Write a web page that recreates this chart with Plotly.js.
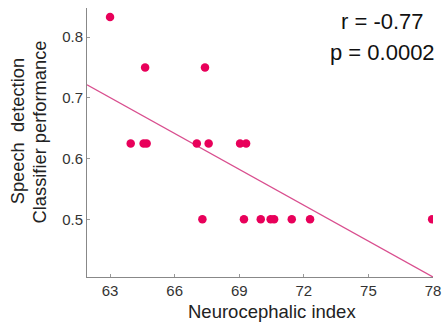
<!DOCTYPE html>
<html><head><meta charset="utf-8">
<script src="https://cdn.plot.ly/plotly-3.0.1.min.js"></script>
<style>html,body{margin:0;padding:0;background:#fff;}#chart{width:443px;height:323px;}</style>
</head><body><div id="chart"></div>
<script>
const neurocephalicIndex = [63.0, 64.63, 67.41, 63.96, 64.56, 64.70, 67.03, 67.58, 69.04, 69.32, 67.29, 69.22, 70.0, 70.46, 70.62, 71.44, 72.29, 77.96];
const classifierPerf = [0.833, 0.75, 0.75, 0.625, 0.625, 0.625, 0.625, 0.625, 0.625, 0.625, 0.5, 0.5, 0.5, 0.5, 0.5, 0.5, 0.5, 0.5];
const fitX = [61.93, 78];
const fitY = [0.7214, 0.405];
const xTicks = [63, 66, 69, 72, 75, 78];
const yTicks = [0.5, 0.6, 0.7, 0.8];
const statsText = ["r = -0.77", "p = 0.0002"];

const font = "Liberation Sans, Arial, sans-serif";
const data = [
  {x: fitX, y: fitY, mode: 'lines', line: {color: '#d94f8f', width: 1.3}, hoverinfo: 'skip'},
  {x: neurocephalicIndex, y: classifierPerf, mode: 'markers',
   marker: {color: '#e8005a', size: 8.5}}
];
const layout = {
  width: 443, height: 323,
  margin: {l: 87, r: 10, t: 8, b: 46},
  showlegend: false,
  paper_bgcolor: '#fff', plot_bgcolor: '#fff',
  font: {family: font, color: '#333'},
  xaxis: {range: [61.93, 78], tickvals: xTicks, ticktext: xTicks.map(String),
    ticks: 'inside', ticklen: 3, tickcolor: '#999', showline: true, linecolor: '#888', linewidth: 1,
    showgrid: false, zeroline: false, tickfont: {size: 15, color: '#333', family: font}},
  yaxis: {range: [0.405, 0.848], tickvals: yTicks, ticktext: yTicks.map(v => v.toFixed(1)),
    ticks: 'inside', ticklen: 3, tickcolor: '#999', showline: true, linecolor: '#888', linewidth: 1,
    showgrid: false, zeroline: false, tickfont: {size: 15, color: '#333', family: font}},
  annotations: [
    {text: 'Neurocephalic index', xref: 'paper', yref: 'paper', x: 0.536, y: -0.082,
     showarrow: false, font: {size: 18.5, color: '#222', family: font}, xanchor: 'center', yanchor: 'top'},
    {text: 'Speech  detection', xref: 'paper', yref: 'paper', x: -0.2, y: 0.541, textangle: -90,
     showarrow: false, font: {size: 18.3, color: '#222', family: font}, xanchor: 'center', yanchor: 'middle'},
    {text: 'Classifier performance', xref: 'paper', yref: 'paper', x: -0.136, y: 0.541, textangle: -90,
     showarrow: false, font: {size: 18.3, color: '#222', family: font}, xanchor: 'center', yanchor: 'middle'},
    {text: statsText[0], xref: 'paper', yref: 'paper', x: 0.855, y: 1.005, showarrow: false,
     font: {size: 22, color: '#111', family: font}, xanchor: 'center', yanchor: 'top'},
    {text: statsText[1], xref: 'paper', yref: 'paper', x: 0.855, y: 0.89, showarrow: false,
     font: {size: 22, color: '#111', family: font}, xanchor: 'center', yanchor: 'top'}
  ]
};
Plotly.newPlot('chart', data, layout, {displayModeBar: false, staticPlot: true});
</script></body></html>
